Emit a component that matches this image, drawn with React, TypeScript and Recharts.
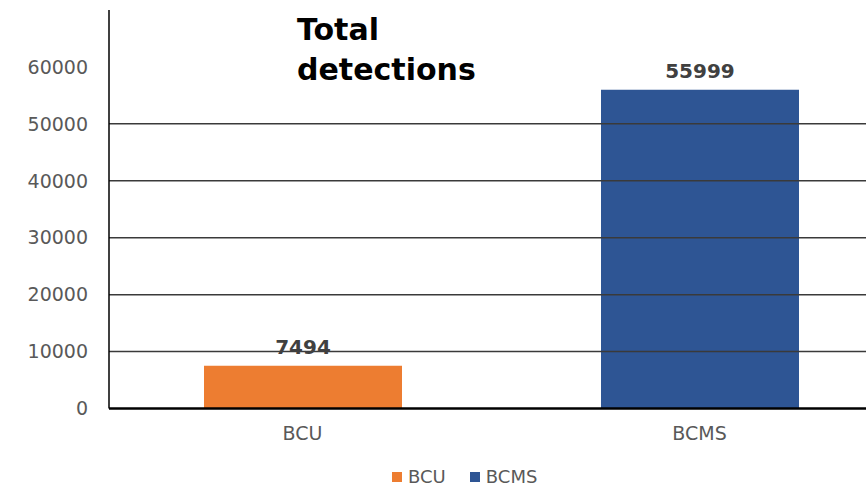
import { BarChart, Bar, XAxis, YAxis, ReferenceLine, LabelList, Legend } from "recharts";

const categories = ["BCU", "BCMS"];
const bcuValues = [7494, null];
const bcmsValues = [null, 55999];
const yTicks = [0, 10000, 20000, 30000, 40000, 50000, 60000];
const gridValues = [10000, 20000, 30000, 40000, 50000];

const FONT = "'DejaVu Sans', sans-serif";

const rows = categories.map((name, i) => ({ name, BCU: bcuValues[i], BCMS: bcmsValues[i] }));

function LegendBox({ payload }: { payload?: any[] }) {
  const items = [...(payload || [])].sort(
    (a: any, b: any) => categories.indexOf(a.value) - categories.indexOf(b.value)
  );
  return (
    <div style={{ display: "flex", alignItems: "center", fontFamily: FONT, fontSize: 18, lineHeight: "22px", color: "#595959" }}>
      {items.map((p: any) => (
        <span key={p.value} style={{ display: "inline-flex", alignItems: "center", marginRight: 24 }}>
          <span style={{ width: 10, height: 10, background: p.color, marginRight: 6, display: "inline-block" }} />
          {p.value}
        </span>
      ))}
    </div>
  );
}

export default function App() {
  return (
    <div style={{ position: "absolute", left: 0, top: 0, width: 866, height: 488, overflow: "hidden", background: "#fff" }}>
      <BarChart width={898} height={488} data={rows} margin={{ top: 10, right: 0, left: 0, bottom: 39.5 }} barSize={198}>
        <XAxis
          dataKey="name"
          height={40}
          padding={{ left: -5, right: 0 }}
          tickLine={false}
          tickSize={0}
          tickMargin={18}
          axisLine={{ stroke: "#000", strokeWidth: 2.5 }}
          tick={{ fontFamily: FONT, fontSize: 19, fill: "#595959" }}
        />
        <YAxis
          width={109}
          domain={[0, 70000]}
          ticks={yTicks}
          interval={0}
          tickLine={false}
          tickSize={0}
          tickMargin={21}
          axisLine={{ stroke: "#000", strokeWidth: 1.5 }}
          tick={{ fontFamily: FONT, fontSize: 19, fill: "#595959" }}
        />
        <Bar dataKey="BCU" stackId="a" fill="#ED7D31" isAnimationActive={false}>
          <LabelList dataKey="BCU" position="top" offset={12} style={{ fontFamily: FONT, fontSize: 20, fontWeight: 700, fill: "#404040" }} />
        </Bar>
        <Bar dataKey="BCMS" stackId="a" fill="#2E5594" isAnimationActive={false}>
          <LabelList dataKey="BCMS" position="top" offset={12} style={{ fontFamily: FONT, fontSize: 20, fontWeight: 700, fill: "#404040" }} />
        </Bar>
        {gridValues.map((v) => (
          <ReferenceLine key={v} y={v} stroke="#3a3a3a" strokeWidth={1.5} />
        ))}
        <Legend
          verticalAlign="middle"
          content={<LegendBox />}
          wrapperStyle={{ left: 392, top: 466, width: 300, height: 22 }}
        />
      </BarChart>
      <div
        style={{
          position: "absolute",
          left: 297,
          top: 9.6,
          fontFamily: FONT,
          fontWeight: 700,
          fontSize: 30,
          lineHeight: "40px",
          color: "#000",
        }}
      >
        Total
        <br />
        detections
      </div>
    </div>
  );
}
